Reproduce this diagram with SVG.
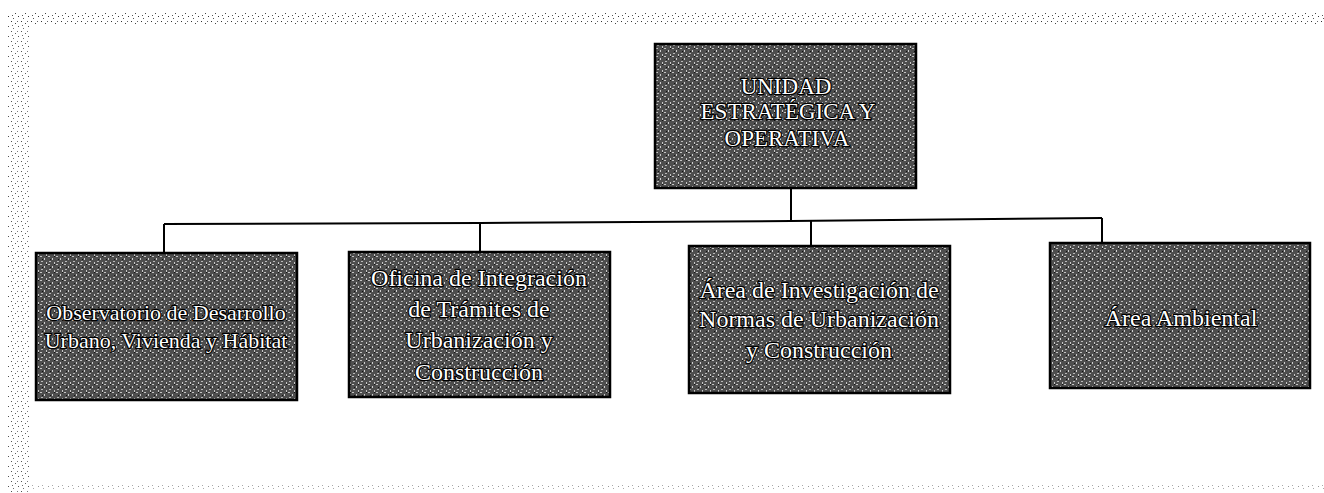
<svg xmlns="http://www.w3.org/2000/svg" width="1324" height="493" viewBox="0 0 1324 493">
<style>
.box{fill:url(#stip);stroke:#000;stroke-width:2.5}
.lbl{font-family:"Liberation Serif","Times New Roman",serif;fill:#fff;stroke:#000;stroke-width:2.4;paint-order:stroke;text-anchor:middle;stroke-linejoin:round}
.top{font-size:23px}
.sub{font-size:24px}
.sub1{font-size:22px}
.conn{fill:none;stroke:#000;stroke-width:2}
</style>
<defs>
<pattern id="stip" width="8" height="8" patternUnits="userSpaceOnUse">
<rect width="8" height="8" fill="#4e4e4e"/>
<rect x="0" y="0" width="2" height="1" fill="#c4c4c4"/>
<rect x="4" y="2" width="1" height="2" fill="#cfcfcf"/>
<rect x="1" y="5" width="2" height="1" fill="#b8b8b8"/>
<rect x="6" y="6" width="1" height="2" fill="#c6c6c6"/>
<rect x="6" y="0" width="1" height="1" fill="#111"/>
<rect x="2" y="3" width="1" height="1" fill="#111"/>
</pattern>
<pattern id="noise" width="10" height="10" patternUnits="userSpaceOnUse">
<rect width="10" height="10" fill="#fff"/>
<rect x="1" y="1" width="1" height="1" fill="#333"/>
<rect x="5" y="3" width="1" height="1" fill="#444"/>
<rect x="8" y="6" width="1" height="1" fill="#333"/>
<rect x="3" y="8" width="1" height="1" fill="#555"/>
<rect x="7" y="1" width="1" height="1" fill="#666"/>
<rect x="2" y="5" width="1" height="1" fill="#555"/>
</pattern>
</defs>
<rect width="1324" height="493" fill="#fff"/>
<g id="scan-edges">
<rect x="8" y="13" width="1316" height="12" fill="url(#noise)"/>
<rect x="8" y="13" width="22" height="480" fill="url(#noise)" opacity="0.85"/>
<rect x="30" y="485" width="1294" height="6" fill="url(#noise)" opacity="0.5"/>
</g>
<g id="connectors">
<line class="conn" x1="791" y1="188" x2="791" y2="221"/>
<polyline class="conn" points="164,224 480,223 791,221 1102,218"/>
<line class="conn" x1="164" y1="224" x2="164" y2="253"/>
<line class="conn" x1="480" y1="223" x2="480" y2="252"/>
<line class="conn" x1="811" y1="221" x2="811" y2="246"/>
<line class="conn" x1="1102" y1="218" x2="1102" y2="243"/>
</g>
<g id="node-unidad">
<rect class="box" x="655" y="44" width="261" height="144"/>
<text class="lbl top" x="786" y="94">UNIDAD</text>
<text class="lbl top" x="788" y="119">ESTRATÉGICA Y</text>
<text class="lbl top" x="787" y="146">OPERATIVA</text>
</g>
<g id="node-observatorio">
<rect class="box" x="36" y="253" width="261" height="147"/>
<text class="lbl sub1" x="166" y="320">Observatorio de Desarrollo</text>
<text class="lbl sub1" x="166" y="348">Urbano, Vivienda y Hábitat</text>
</g>
<g id="node-oficina">
<rect class="box" x="349" y="252" width="261" height="145"/>
<text class="lbl sub" x="479" y="286">Oficina de Integración</text>
<text class="lbl sub" x="479" y="317">de Trámites de</text>
<text class="lbl sub" x="479" y="348">Urbanización y</text>
<text class="lbl sub" x="479" y="380">Construcción</text>
</g>
<g id="node-area-investigacion">
<rect class="box" x="689" y="246" width="261" height="147"/>
<text class="lbl sub" x="819" y="298">Área de Investigación de</text>
<text class="lbl sub" x="819" y="327">Normas de Urbanización</text>
<text class="lbl sub" x="819" y="358">y Construcción</text>
</g>
<g id="node-area-ambiental">
<rect class="box" x="1050" y="243" width="260" height="145"/>
<text class="lbl sub" x="1181" y="326">Área Ambiental</text>
</g>
</svg>
